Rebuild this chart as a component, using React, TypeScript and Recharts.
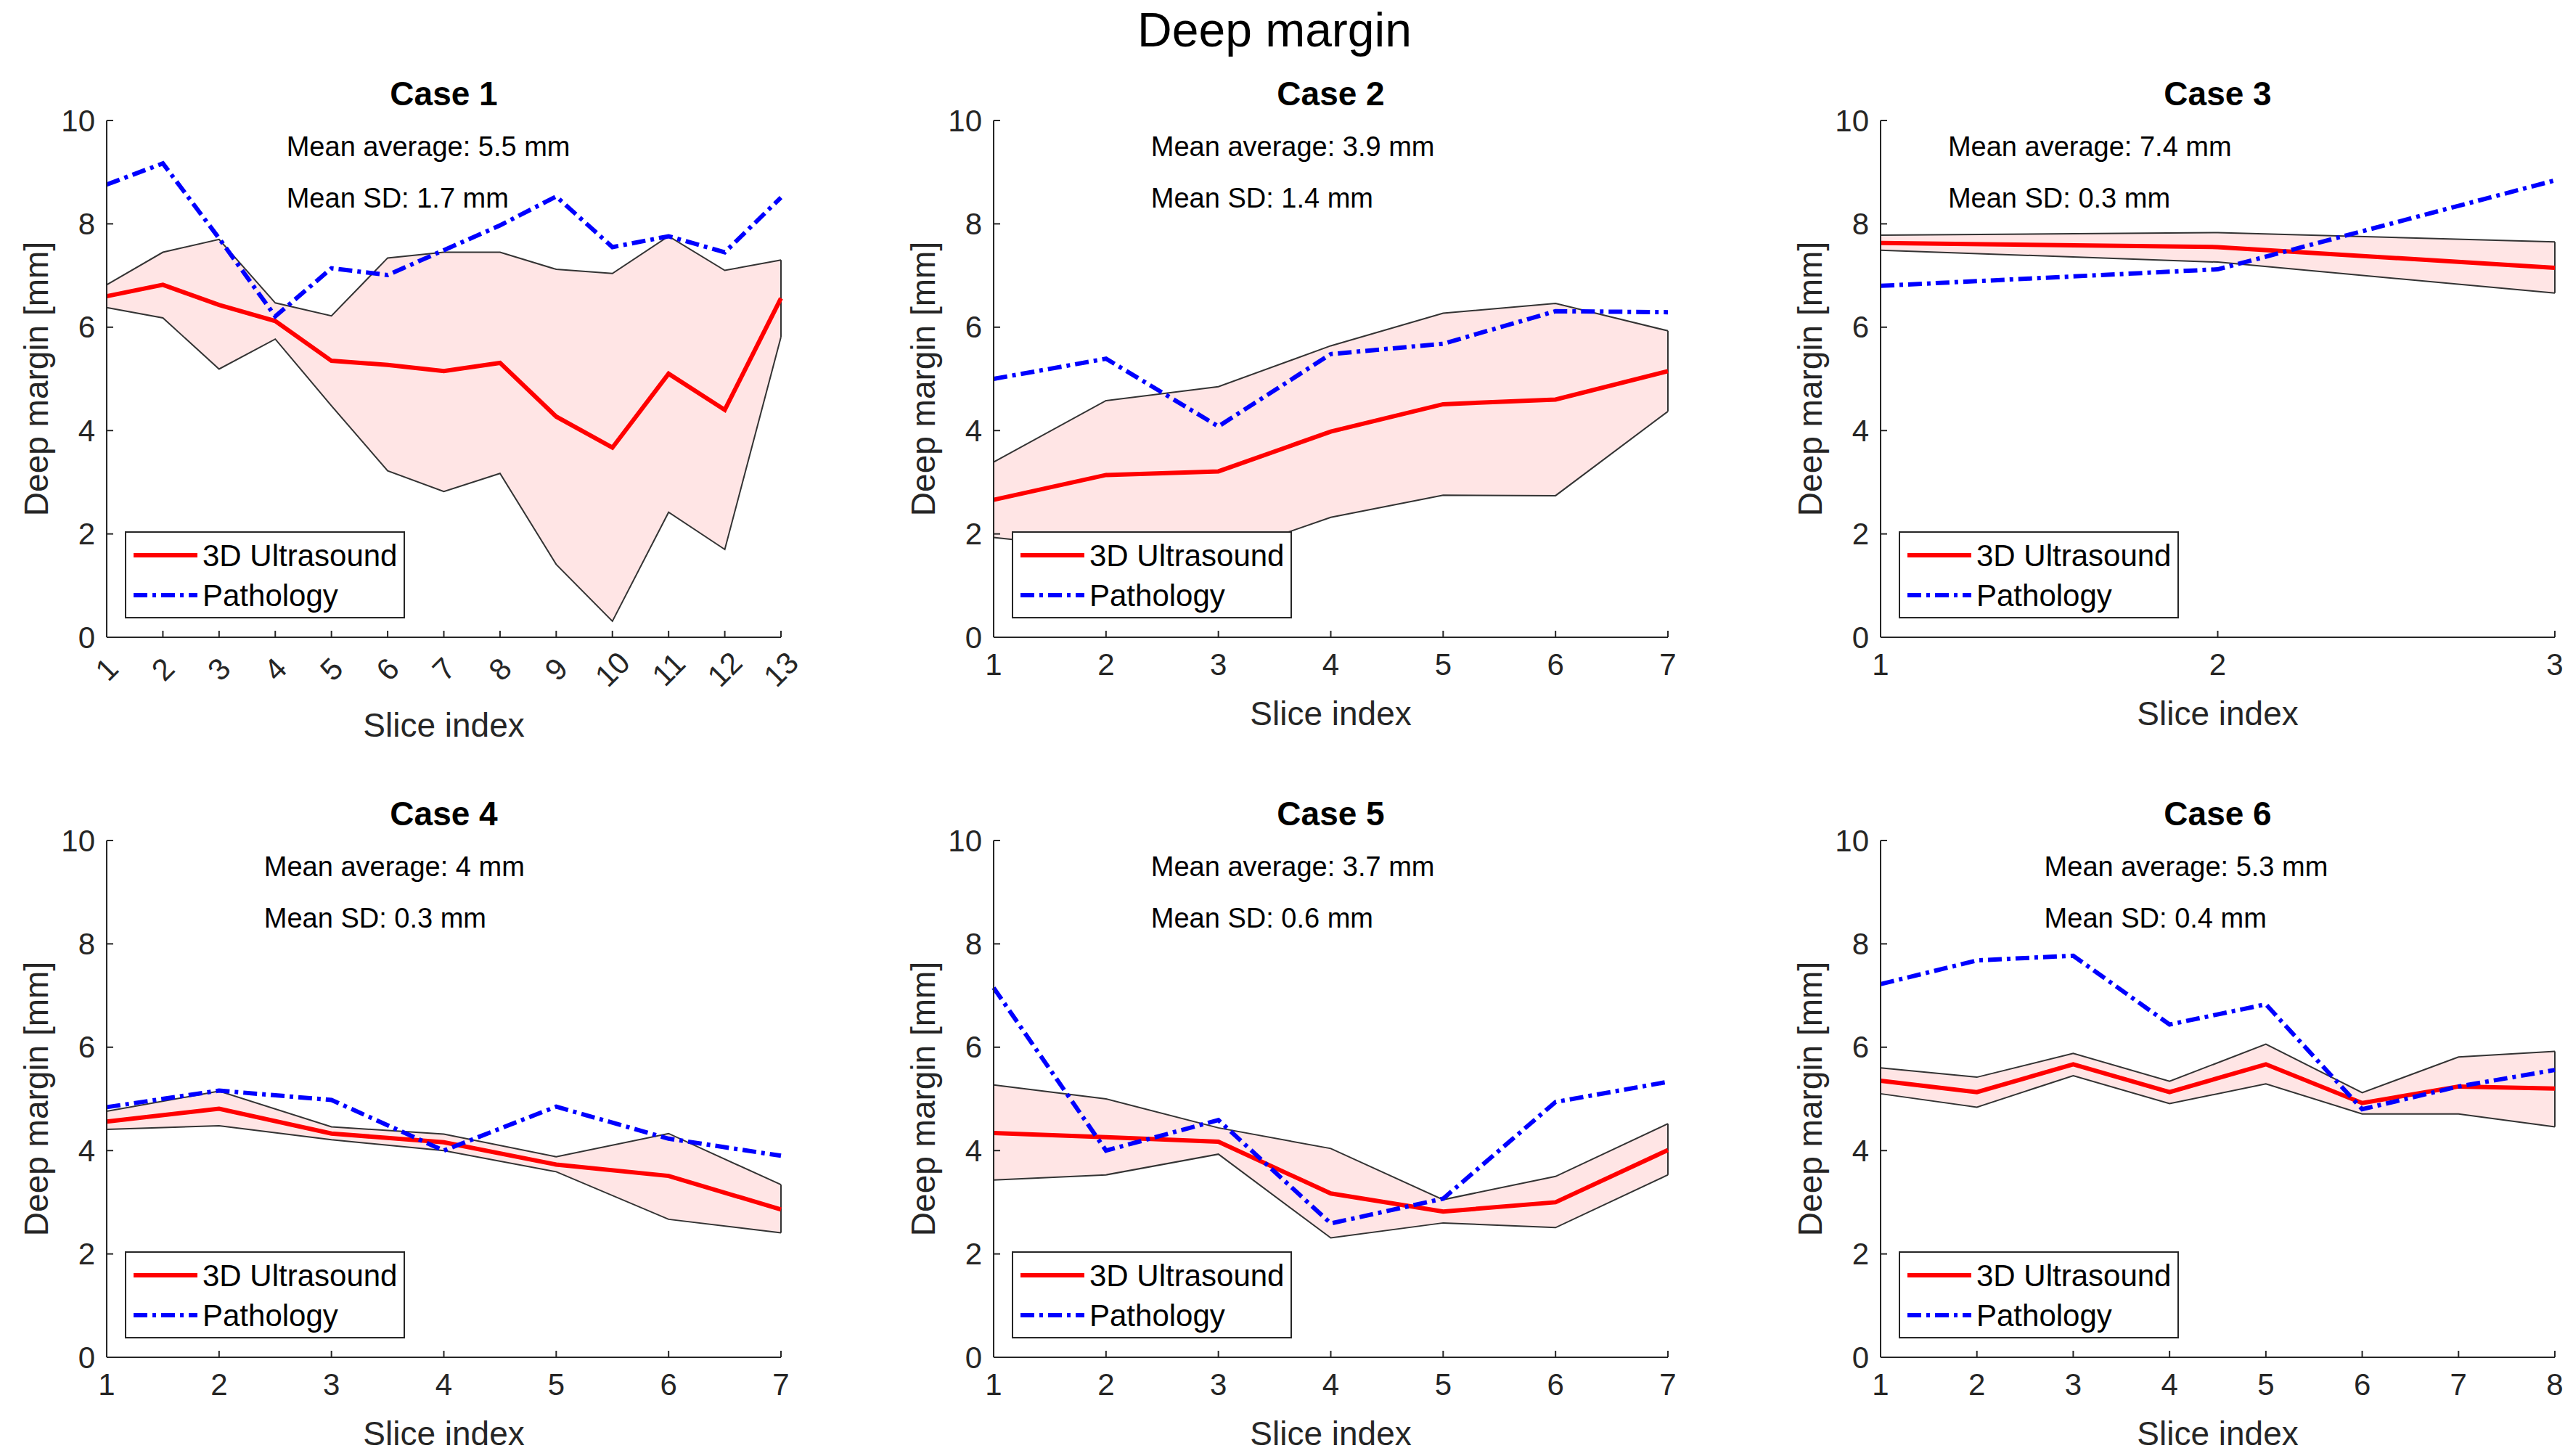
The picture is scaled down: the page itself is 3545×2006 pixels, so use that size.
import React from 'react';
import { ComposedChart, Area, Line, XAxis, YAxis, ReferenceDot, ReferenceLine } from 'recharts';

// slice indices per case
const case1Slices = [1, 2, 3, 4, 5, 6, 7, 8, 9, 10, 11, 12, 13];
const case2Slices = [1, 2, 3, 4, 5, 6, 7];
const case3Slices = [1, 2, 3];
const case4Slices = [1, 2, 3, 4, 5, 6, 7];
const case5Slices = [1, 2, 3, 4, 5, 6, 7];
const case6Slices = [1, 2, 3, 4, 5, 6, 7, 8];

// 3D ultrasound mean, mean +/- SD band, pathology
const case1Ultrasound = [6.6, 6.82, 6.43, 6.12, 5.35, 5.27, 5.15, 5.31, 4.27, 3.67, 5.1, 4.4, 6.56];
const case1Upper = [6.82, 7.45, 7.7, 6.47, 6.22, 7.34, 7.45, 7.45, 7.12, 7.04, 7.76, 7.1, 7.3];
const case1Lower = [6.38, 6.18, 5.19, 5.77, 4.48, 3.22, 2.82, 3.17, 1.41, 0.31, 2.42, 1.7, 5.81];
const case1Pathology = [8.76, 9.17, 7.72, 6.21, 7.14, 7.01, 7.49, 7.97, 8.53, 7.55, 7.76, 7.45, 8.51];

const case2Ultrasound = [2.66, 3.14, 3.21, 3.98, 4.51, 4.6, 5.15];
const case2Upper = [3.39, 4.58, 4.85, 5.64, 6.27, 6.46, 5.93];
const case2Lower = [1.93, 1.7, 1.57, 2.32, 2.75, 2.74, 4.37];
const case2Pathology = [5.0, 5.39, 4.08, 5.48, 5.68, 6.31, 6.29];

const case3Ultrasound = [7.63, 7.55, 7.15];
const case3Upper = [7.78, 7.83, 7.65];
const case3Lower = [7.49, 7.26, 6.66];
const case3Pathology = [6.8, 7.12, 8.84];

const case4Ultrasound = [4.56, 4.81, 4.33, 4.16, 3.73, 3.51, 2.86];
const case4Upper = [4.76, 5.15, 4.46, 4.32, 3.88, 4.33, 3.34];
const case4Lower = [4.41, 4.48, 4.21, 4.0, 3.59, 2.67, 2.41];
const case4Pathology = [4.84, 5.16, 4.98, 4.0, 4.85, 4.23, 3.9];

const case5Ultrasound = [4.34, 4.26, 4.17, 3.17, 2.82, 3.0, 4.01];
const case5Upper = [5.27, 5.0, 4.44, 4.04, 3.05, 3.5, 4.52];
const case5Lower = [3.43, 3.53, 3.93, 2.31, 2.6, 2.51, 3.53];
const case5Pathology = [7.15, 4.0, 4.59, 2.59, 3.07, 4.94, 5.33];

const case6Ultrasound = [5.35, 5.13, 5.67, 5.13, 5.67, 4.92, 5.24, 5.2];
const case6Upper = [5.6, 5.42, 5.88, 5.34, 6.06, 5.12, 5.81, 5.92];
const case6Lower = [5.1, 4.84, 5.45, 4.91, 5.29, 4.71, 4.71, 4.46];
const case6Pathology = [7.22, 7.68, 7.77, 6.44, 6.83, 4.8, 5.24, 5.56];

const yTicks = [0, 2, 4, 6, 8, 10];
const meanAverages = ['5.5', '3.9', '7.4', '4', '3.7', '5.3'];
const meanSDs = ['1.7', '1.4', '0.3', '0.3', '0.6', '0.4'];
// x position (in slice units) where the annotation text starts
const noteX = [4.2, 2.4, 1.2, 2.4, 2.4, 2.7];

const cases = [
  { title: 'Case 1', slices: case1Slices, us: case1Ultrasound, hi: case1Upper, lo: case1Lower, path: case1Pathology, rotate: true },
  { title: 'Case 2', slices: case2Slices, us: case2Ultrasound, hi: case2Upper, lo: case2Lower, path: case2Pathology },
  { title: 'Case 3', slices: case3Slices, us: case3Ultrasound, hi: case3Upper, lo: case3Lower, path: case3Pathology },
  { title: 'Case 4', slices: case4Slices, us: case4Ultrasound, hi: case4Upper, lo: case4Lower, path: case4Pathology },
  { title: 'Case 5', slices: case5Slices, us: case5Ultrasound, hi: case5Upper, lo: case5Lower, path: case5Pathology },
  { title: 'Case 6', slices: case6Slices, us: case6Ultrasound, hi: case6Upper, lo: case6Lower, path: case6Pathology },
];

const FONT = '"Liberation Sans", Arial, Helvetica, sans-serif';
const AXIS = '#262626';
const LINE_W = 6;
const DASH = '19 7 5 7';
const PLOT_W = 929;
const PLOT_H = 712;
const ML = 140;
const MT = 100;
const MR = 40;
const XH = 150;
const colLeft = [147, 1369, 2591];
const rowTop = [166, 1158];

function XTick({ x, y, payload, rotate }: any) {
  if (rotate) {
    return (
      <g transform={`translate(${x},${y + 23}) rotate(-45)`}>
        <text textAnchor="middle" dominantBaseline="central" fill={AXIS} fontSize={42} fontFamily={FONT}>{payload.value}</text>
      </g>
    );
  }
  return (
    <text x={x} y={y + 16} textAnchor="middle" dominantBaseline="central" fill={AXIS} fontSize={42} fontFamily={FONT}>{payload.value}</text>
  );
}

function YTick({ x, y, payload }: any) {
  return (
    <text x={x} y={y} textAnchor="end" dominantBaseline="central" fill={AXIS} fontSize={42} fontFamily={FONT}>{payload.value}</text>
  );
}

function Panel({ c, idx }: { c: any; idx: number }) {
  const data = c.slices.map((s: number, i: number) => ({ x: s, us: c.us[i], band: [c.lo[i], c.hi[i]], path: c.path[i] }));
  const n = c.slices.length;
  const left = colLeft[idx % 3];
  const top = rowTop[Math.floor(idx / 3)];
  const W = ML + PLOT_W + MR;
  const H = MT + PLOT_H + XH;
  return (
    <div style={{ position: 'absolute', left: left - ML, top: top - MT, width: W, height: H }}>
      <ComposedChart width={W} height={H} data={data} margin={{ top: MT, right: MR, left: 0, bottom: 0 }}>
        <XAxis
          dataKey="x"
          type="number"
          domain={[c.slices[0], c.slices[n - 1]]}
          ticks={c.slices}
          interval={0}
          height={XH}
          tickSize={-9}
          tickMargin={30}
          axisLine={{ stroke: AXIS, strokeWidth: 2 }}
          tickLine={{ stroke: AXIS, strokeWidth: 2 }}
          tick={<XTick rotate={!!c.rotate} />}
          label={{ value: 'Slice index', position: 'insideTop', offset: c.rotate ? 104 : 88, fill: AXIS, fontSize: 46, fontFamily: FONT }}
        />
        <YAxis
          type="number"
          domain={[0, 10]}
          ticks={yTicks}
          width={ML}
          tickSize={-9}
          tickMargin={25}
          axisLine={{ stroke: AXIS, strokeWidth: 2 }}
          tickLine={{ stroke: AXIS, strokeWidth: 2 }}
          tick={<YTick />}
          label={{ value: 'Deep margin [mm]', angle: -90, position: 'insideLeft', offset: 43, fill: AXIS, fontSize: 46, fontFamily: FONT, style: { textAnchor: 'middle' } }}
        />
        <Area type="linear" dataKey="band" fill="#FFE5E5" fillOpacity={1} stroke="#333333" strokeWidth={2} dot={false} activeDot={false} isAnimationActive={false} />
        <ReferenceLine segment={[{ x: c.slices[n - 1], y: c.lo[n - 1] }, { x: c.slices[n - 1], y: c.hi[n - 1] }]} stroke="#333333" strokeWidth={2} />
        <Line type="linear" dataKey="us" stroke="#FF0000" strokeWidth={LINE_W} dot={false} activeDot={false} isAnimationActive={false} />
        <Line type="linear" dataKey="path" stroke="#0000FF" strokeWidth={LINE_W} strokeDasharray={DASH} dot={false} activeDot={false} isAnimationActive={false} />
        <ReferenceDot x={noteX[idx]} y={9.5} r={0} stroke="none" label={{ value: `Mean average: ${meanAverages[idx]} mm`, position: 'right', offset: 0, fill: '#000', fontSize: 38, fontFamily: FONT }} />
        <ReferenceDot x={noteX[idx]} y={8.5} r={0} stroke="none" label={{ value: `Mean SD: ${meanSDs[idx]} mm`, position: 'right', offset: 0, fill: '#000', fontSize: 38, fontFamily: FONT }} />
      </ComposedChart>
      <div style={{ position: 'absolute', left: ML, top: MT - 62, width: PLOT_W, textAlign: 'center', fontSize: 46, lineHeight: '50px', fontWeight: 'bold', color: '#000' }}>
        {c.title}
      </div>
      <div style={{ position: 'absolute', left: ML + 25, top: MT + PLOT_H - 146, width: 386, height: 120, boxSizing: 'border-box', border: `2px solid ${AXIS}`, background: '#fff' }}>
        <svg width={382} height={116} style={{ display: 'block' }}>
          <line x1={10} x2={98} y1={31} y2={31} stroke="#FF0000" strokeWidth={LINE_W} />
          <line x1={10} x2={98} y1={86} y2={86} stroke="#0000FF" strokeWidth={LINE_W} strokeDasharray={DASH} />
          <text x={105} y={31} dominantBaseline="central" fontSize={42} fontFamily={FONT} fill="#000">3D Ultrasound</text>
          <text x={105} y={86} dominantBaseline="central" fontSize={42} fontFamily={FONT} fill="#000">Pathology</text>
        </svg>
      </div>
    </div>
  );
}

export default function App() {
  return (
    <div style={{ position: 'absolute', left: 0, top: 0, width: 3545, height: 2006, background: '#fff', fontFamily: FONT, overflow: 'hidden' }}>
      <div style={{ position: 'absolute', left: 1756, top: 8, transform: 'translateX(-50%)', fontSize: 66, lineHeight: '66px', color: '#000', whiteSpace: 'nowrap' }}>
        Deep margin
      </div>
      {cases.map((c, i) => (
        <Panel key={c.title} c={c} idx={i} />
      ))}
    </div>
  );
}
